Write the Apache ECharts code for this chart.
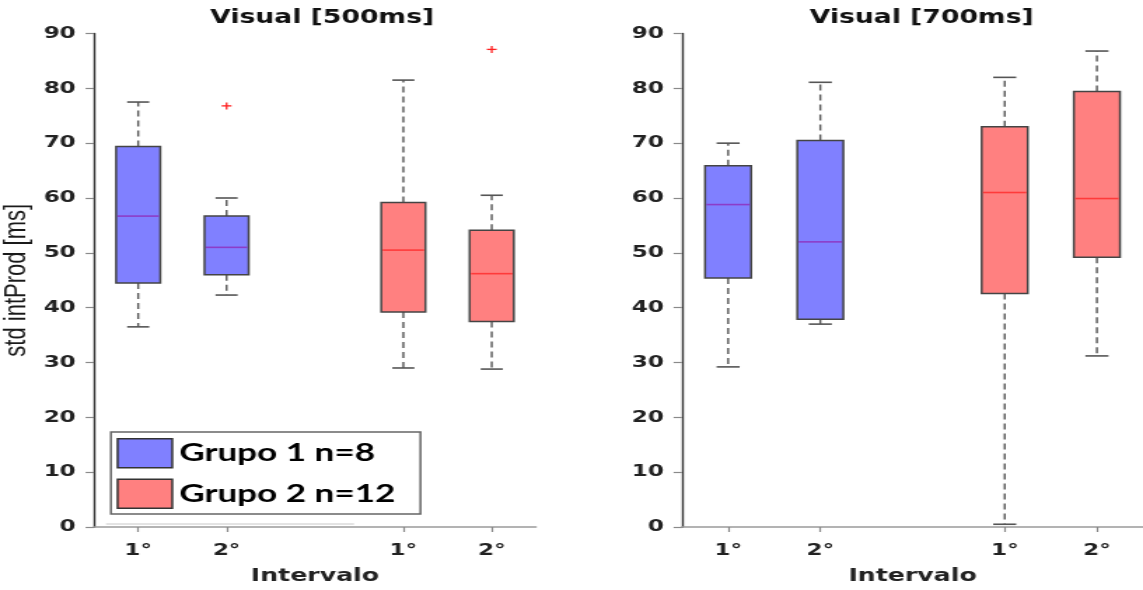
<!DOCTYPE html>
<html>
<head>
<meta charset="utf-8">
<script src="https://cdn.jsdelivr.net/npm/echarts@6/dist/echarts.min.js"></script>
<style>
  html, body { margin: 0; padding: 0; background: #fff; overflow: hidden; }
  /* the figure is laid out on a narrower canvas and widened horizontally */
  #chart { width: 816px; height: 590px; transform: scaleX(1.40074); transform-origin: 0 0; }
</style>
</head>
<body>
<div id="chart"></div>
<script>
// Interval categories; the empty slot separates the two groups
const intervalLabels = ['1°', '2°', '', '1°', '2°'];
const panelTitles = ['Visual [500ms]', 'Visual [700ms]'];
const groupNames = ['Grupo 1 n=8', 'Grupo 2 n=12'];
const yMin = 0, yMax = 90, yStep = 10;

// Box statistics per interval: [category index, lower whisker, Q1, median, Q3, upper whisker]
const grupo1_500 = [[0, 36.5, 44.5, 56.7, 69.4, 77.5], [1, 42.3, 46.0, 51.0, 56.7, 60.0]];
const grupo2_500 = [[3, 29.0, 39.2, 50.5, 59.2, 81.5], [4, 28.8, 37.5, 46.2, 54.1, 60.5]];
const grupo1_700 = [[0, 29.2, 45.4, 58.8, 65.9, 70.0], [1, 37.0, 37.9, 52.0, 70.5, 81.1]];
const grupo2_700 = [[3, 0.5, 42.6, 61.0, 73.0, 82.0], [4, 31.2, 49.2, 59.9, 79.4, 86.8]];
// Outliers: [category index, value]
const outliers_500 = [[1, 76.8], [4, 87.1]];
const outliers_700 = [];

const blueFill = '#8080ff', redFill = '#ff8080';
const blueMedian = '#8c3cc8', redMedian = '#ff3a3a';
const edgeColor = '#444444', whiskerColor = '#555555';

function boxRenderer(fill, medianColor) {
  return function (params, api) {
    const c = api.value(0);
    const lo = api.coord([c, api.value(1)]);
    const q1 = api.coord([c, api.value(2)]);
    const md = api.coord([c, api.value(3)]);
    const q3 = api.coord([c, api.value(4)]);
    const hi = api.coord([c, api.value(5)]);
    const band = api.size([1, 0])[0];
    const bw = band * 0.5, cw = band * 0.25;
    const x = lo[0];
    const dash = { stroke: whiskerColor, lineWidth: 1.4, lineDash: [6, 4] };
    const cap = { stroke: whiskerColor, lineWidth: 1.6 };
    return {
      type: 'group',
      children: [
        { type: 'line', shape: { x1: x, y1: q3[1], x2: x, y2: hi[1] }, style: dash },
        { type: 'line', shape: { x1: x, y1: q1[1], x2: x, y2: lo[1] }, style: dash },
        { type: 'line', shape: { x1: x - cw / 2, y1: hi[1], x2: x + cw / 2, y2: hi[1] }, style: cap },
        { type: 'line', shape: { x1: x - cw / 2, y1: lo[1], x2: x + cw / 2, y2: lo[1] }, style: cap },
        { type: 'rect', shape: { x: x - bw / 2, y: q3[1], width: bw, height: q1[1] - q3[1] },
          style: { fill: fill, stroke: edgeColor, lineWidth: 1.5 } },
        { type: 'line', shape: { x1: x - bw / 2 + 1, y1: md[1], x2: x + bw / 2 - 1, y2: md[1] },
          style: { stroke: medianColor, lineWidth: 1.6 } }
      ]
    };
  };
}

function plusRenderer(params, api) {
  const p = api.coord([api.value(0), api.value(1)]);
  const st = { stroke: '#ff2020', lineWidth: 1.3 };
  return {
    type: 'group',
    children: [
      { type: 'line', shape: { x1: p[0] - 3.5, y1: p[1], x2: p[0] + 3.5, y2: p[1] }, style: st },
      { type: 'line', shape: { x1: p[0], y1: p[1] - 3.5, x2: p[0], y2: p[1] + 3.5 }, style: st }
    ]
  };
}

const tickFont = { fontFamily: 'DejaVu Sans', fontWeight: 'bold', fontSize: 16.5, color: '#222' };

function xAxisFor(gridIndex) {
  return {
    type: 'category', gridIndex: gridIndex, data: intervalLabels,
    name: 'Intervalo', nameLocation: 'middle', nameGap: 40,
    nameTextStyle: { fontFamily: 'DejaVu Sans', fontWeight: 'bold', fontSize: 18, color: '#222' },
    axisLine: { show: true, lineStyle: { color: '#9a9a9a', width: 1.5 } },
    axisTick: { show: true, alignWithLabel: true, length: 5, lineStyle: { color: '#888', width: 1.2 },
      interval: function (i, v) { return v !== ''; } },
    axisLabel: Object.assign({ interval: 0, margin: 15 }, tickFont),
    splitLine: { show: false }
  };
}

function yAxisFor(gridIndex, withName) {
  const ax = {
    type: 'value', gridIndex: gridIndex, min: yMin, max: yMax, interval: yStep,
    axisLine: { show: true, lineStyle: { color: '#333', width: 1.4 } },
    axisTick: { show: true, length: 6, lineStyle: { color: '#8a8a8a', width: 1.2 } },
    axisLabel: Object.assign({ margin: 13 }, tickFont),
    splitLine: { show: false }
  };
  if (withName) {
    ax.name = 'std intProd [ms]';
    ax.nameLocation = 'middle';
    ax.nameGap = 44;
    ax.nameTextStyle = { fontFamily: 'Liberation Sans', fontSize: 22, color: '#1a1a1a' };
  }
  return ax;
}

function boxSeries(name, data, gi, fill, med) {
  return {
    type: 'custom', name: name, xAxisIndex: gi, yAxisIndex: gi,
    itemStyle: { color: fill },
    encode: { x: 0, y: [1, 2, 3, 4, 5] },
    renderItem: boxRenderer(fill, med), data: data, z: 2
  };
}

function outlierSeries(data, gi) {
  return {
    type: 'custom', name: 'outliers', xAxisIndex: gi, yAxisIndex: gi,
    encode: { x: 0, y: 1 }, renderItem: plusRenderer, data: data, z: 3
  };
}

const titleFont = { fontFamily: 'DejaVu Sans', fontWeight: 'bold', fontSize: 19, color: '#111' };

const chart = echarts.init(document.getElementById('chart'), null, { renderer: 'canvas' });
chart.setOption({
  animation: false,
  backgroundColor: '#fff',
  title: [
    { text: panelTitles[0], left: 225, top: 4, textAlign: 'center', textStyle: titleFont },
    { text: panelTitles[1], left: 653, top: 4, textAlign: 'center', textStyle: titleFont }
  ],
  grid: [
    { left: 67.1, top: 33.5, width: 315.5, height: 497.5 },
    { left: 486.9, top: 33.5, width: 332, height: 497.5 }
  ],
  xAxis: [xAxisFor(0), xAxisFor(1)],
  yAxis: [yAxisFor(0, true), yAxisFor(1, false)],
  legend: {
    orient: 'vertical', left: 79.2, top: 432,
    icon: 'rect', itemWidth: 39, itemHeight: 29, itemGap: 10,
    padding: [6, 18, 5, 4],
    backgroundColor: '#fff', borderColor: '#666', borderWidth: 1.5,
    selectedMode: false,
    textStyle: { fontFamily: 'Lato', fontWeight: 'bold', fontSize: 25, color: '#000', lineHeight: 29 },
    data: [
      { name: groupNames[0], itemStyle: { color: blueFill, borderColor: '#333', borderWidth: 1.5 } },
      { name: groupNames[1], itemStyle: { color: redFill, borderColor: '#333', borderWidth: 1.5 } }
    ]
  },
  graphic: [
    { type: 'line', shape: { x1: 75.7, y1: 524, x2: 252.7, y2: 524 },
      style: { stroke: '#c8c8c8', lineWidth: 1 }, z: 1 }
  ],
  series: [
    boxSeries(groupNames[0], grupo1_500, 0, blueFill, blueMedian),
    boxSeries(groupNames[1], grupo2_500, 0, redFill, redMedian),
    boxSeries(groupNames[0], grupo1_700, 1, blueFill, blueMedian),
    boxSeries(groupNames[1], grupo2_700, 1, redFill, redMedian),
    outlierSeries(outliers_500, 0),
    outlierSeries(outliers_700, 1)
  ]
});
</script>
</body>
</html>
